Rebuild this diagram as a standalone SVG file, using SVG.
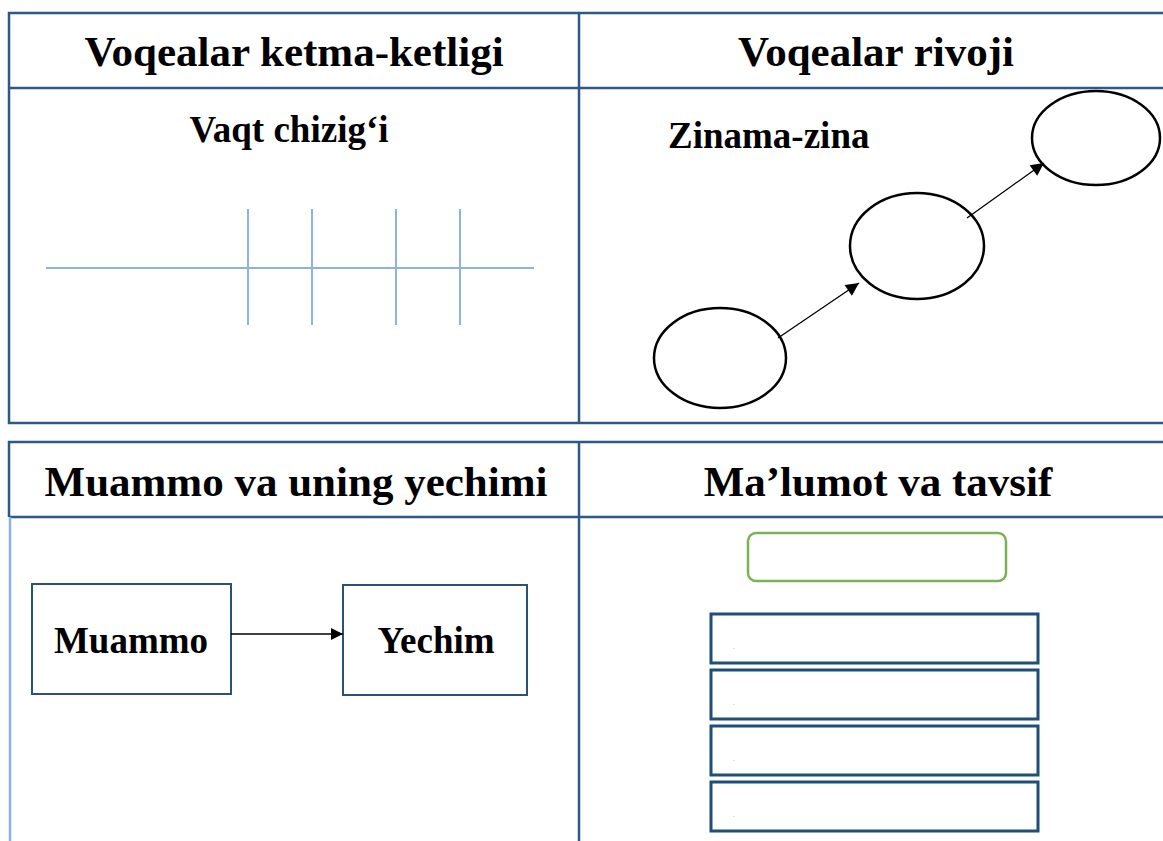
<svg xmlns="http://www.w3.org/2000/svg" width="1163" height="841" viewBox="0 0 1163 841">
<style>
.frame{fill:none;stroke:#2c5987;stroke-width:2.5}
.hdr{font-family:"Liberation Serif",serif;font-weight:bold;font-size:43px;fill:#000;text-anchor:middle}
.sub{font-family:"Liberation Serif",serif;font-weight:bold;font-size:37px;fill:#000}
.tl{stroke:#8db3e2;stroke-width:2;fill:none}
.ell{fill:none;stroke:#000;stroke-width:2.5}
.box{fill:#fff;stroke:#2c4f7c;stroke-width:2}
.conn{stroke:#000;stroke-width:1.3;fill:none}
.rbox{fill:#fff;stroke:#1f4e79;stroke-width:3}
.dot{font-family:"Liberation Sans",sans-serif;font-size:7px;fill:#999}
</style>
<defs>
<marker id="ah" viewBox="0 0 10 10" refX="10" refY="5" markerWidth="15" markerHeight="12" markerUnits="userSpaceOnUse" orient="auto">
<path d="M0,0 L10,5 L0,10 z" fill="#000"/>
</marker>
<marker id="ah2" viewBox="0 0 10 10" refX="10" refY="5" markerWidth="16" markerHeight="13" markerUnits="userSpaceOnUse" orient="auto">
<path d="M0,0 L10,5 L0,10 z" fill="#000"/>
</marker>
</defs>
<rect width="1163" height="841" fill="#fff"/>
<g id="table-top">
<path class="frame" d="M1163,13 H9 V423 H1163 M579,13 V423 M9,88 H1163"/>
</g>
<g id="table-bottom">
<path class="frame" d="M1163,442 H9 V517 M579,442 V841 M9,517 H1163"/>
<path d="M10,517 V841" stroke="#8db3e2" stroke-width="2.5"/>
</g>
<g id="cell-sequence">
<text class="hdr" x="294" y="66">Voqealar ketma-ketligi</text>
<text class="sub" x="289" y="142" text-anchor="middle">Vaqt chizig‘i</text>
<g id="timeline">
<line class="tl" x1="46" y1="268" x2="534" y2="268"/>
<line class="tl" x1="248" y1="209" x2="248" y2="325"/>
<line class="tl" x1="312" y1="209" x2="312" y2="325"/>
<line class="tl" x1="396" y1="209" x2="396" y2="325"/>
<line class="tl" x1="460" y1="209" x2="460" y2="325"/>
</g>
</g>
<g id="cell-development">
<text class="hdr" x="876" y="66">Voqealar rivoji</text>
<text class="sub" x="668" y="148">Zinama-zina</text>
<g id="step1"><ellipse class="ell" cx="720" cy="358" rx="66" ry="50"/></g>
<g id="step2"><ellipse class="ell" cx="917" cy="246" rx="67" ry="53"/></g>
<g id="step3"><ellipse class="ell" cx="1096" cy="138" rx="64" ry="47"/></g>
</g>
<g id="cell-problem">
<text class="hdr" x="296" y="496">Muammo va uning yechimi</text>
<g id="muammo"><rect class="box" x="32" y="584" width="199" height="110"/><text class="sub" x="131" y="653" text-anchor="middle">Muammo</text></g>
<g id="yechim"><rect class="box" x="343" y="585" width="184" height="110"/><text class="sub" x="436" y="653" text-anchor="middle">Yechim</text></g>
</g>
<g id="cell-info">
<text class="hdr" x="878" y="496">Ma’lumot va tavsif</text>
<g id="title-box"><rect x="748" y="533" width="258" height="48" rx="8" fill="#fff" stroke="#7ab357" stroke-width="2.5"/></g>
<g id="row1"><rect class="rbox" x="711" y="614" width="327" height="49"/><text class="dot" x="733" y="649">.</text></g>
<g id="row2"><rect class="rbox" x="711" y="670" width="327" height="49"/><text class="dot" x="733" y="705">.</text></g>
<g id="row3"><rect class="rbox" x="711" y="726" width="327" height="49"/><text class="dot" x="733" y="761">.</text></g>
<g id="row4"><rect class="rbox" x="711" y="782" width="327" height="49"/><text class="dot" x="733" y="817">.</text></g>
</g>
<g id="connectors">
<line class="conn" x1="778" y1="338" x2="859" y2="283" marker-end="url(#ah2)"/>
<line class="conn" x1="967" y1="218" x2="1044" y2="163" marker-end="url(#ah2)"/>
<line class="conn" x1="231" y1="634" x2="343" y2="634" marker-end="url(#ah)"/>
</g>
</svg>
